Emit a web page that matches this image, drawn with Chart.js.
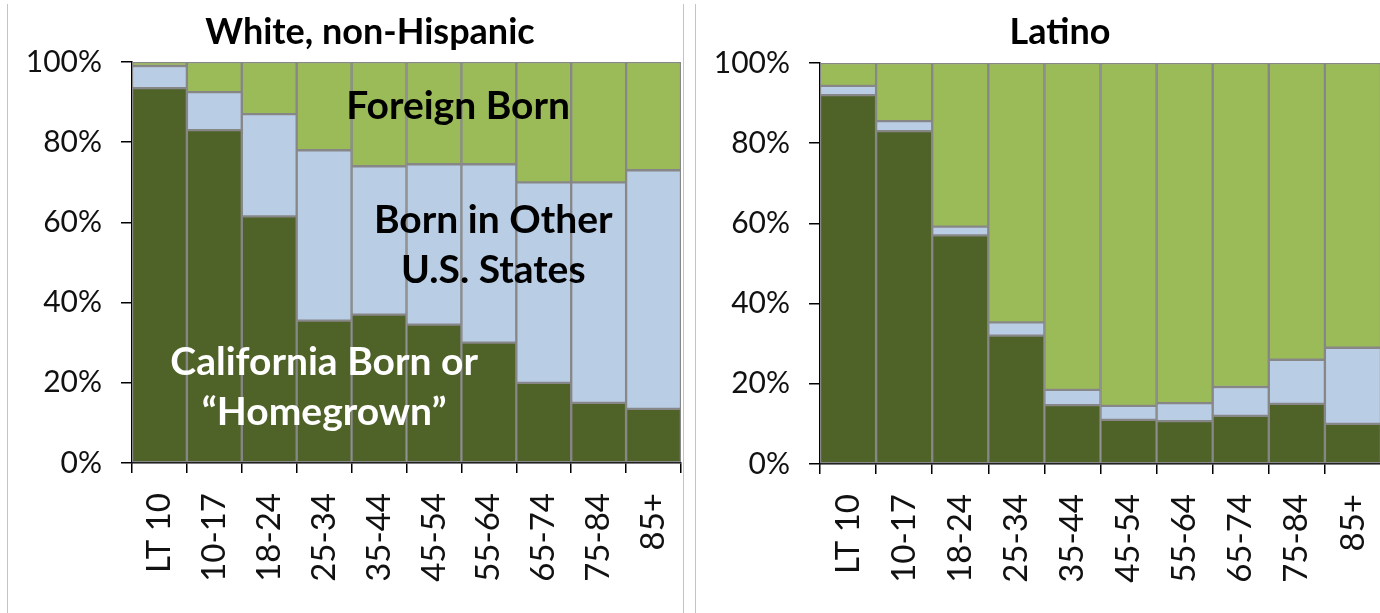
<!DOCTYPE html>
<html>
<head>
<meta charset="utf-8">
<script src="https://cdn.jsdelivr.net/npm/chart.js@4.4.1/dist/chart.umd.min.js"></script>
<style>
  body { margin: 0; background: #fff; width: 1380px; height: 613px; overflow: hidden; position: relative; }
  .painel { position: absolute; top: 0; height: 613px; }
  .linha { position: absolute; top: 4px; bottom: 0; width: 1px; background: #c4c4c4; }
</style>
</head>
<body>
<div class="linha" style="left:7px"></div>
<div class="linha" style="left:683px"></div>
<div class="linha" style="left:695px"></div>
<div class="painel" style="left:0"><canvas id="grafBranco" width="690" height="613"></canvas></div>
<div class="painel" style="left:690px"><canvas id="grafLatino" width="691" height="613"></canvas></div>

<script>
// faixas etarias
const faixas = ['LT 10', '10-17', '18-24', '25-34', '35-44', '45-54', '55-64', '65-74', '75-84', '85+'];

// White, non-Hispanic (%)
const brancoCalifornia = [93.5, 83, 61.5, 35.5, 37, 34.5, 30, 20, 15, 13.5];
const brancoOutrosEstados = [5.5, 9.5, 25.5, 42.5, 37, 40, 44.5, 50, 55, 59.5];
const brancoEstrangeiro = [1, 7.5, 13, 22, 26, 25.5, 25.5, 30, 30, 27];

// Latino (%)
const latinoCalifornia = [92, 83, 57, 32, 14.7, 11, 10.7, 12, 15, 10];
const latinoOutrosEstados = [2.3, 2.5, 2.2, 3.3, 3.8, 3.5, 4.5, 7.2, 11, 19];
const latinoEstrangeiro = [5.7, 14.5, 40.8, 64.7, 81.5, 85.5, 84.8, 80.8, 74, 71];

const yTicks = [0, 20, 40, 60, 80, 100];

const CORES = { california: '#4f6228', outros: '#b9cde5', estrangeiro: '#9bbb59', borda: '#878787' };
const FONTE = 'Lato';

// Plugin para titulo e rotulos dentro do grafico
const textoPainelPlugin = {
  id: 'textoPainel',
  afterDatasetsDraw(chart, args, options) {
    const { ctx, scales: { x, y } } = chart;
    ctx.save();
    ctx.textAlign = 'center';
    ctx.textBaseline = 'middle';
    ctx.font = `bold 36px ${FONTE}`;
    ctx.fillStyle = '#000';
    ctx.fillText(options.titulo, options.tituloX, 32);

    (options.rotulos || []).forEach((r) => {
      ctx.font = `bold 39px ${FONTE}`;
      ctx.fillStyle = r.cor;
      ctx.fillText(r.texto, x.getPixelForValue(r.pos), y.getPixelForValue(r.valor));
    });
    ctx.restore();
  }
};

Chart.register(textoPainelPlugin);

function criarGrafico(id, california, outros, estrangeiro, opcoes) {
  const serie = (label, data, cor) => ({
    label, data,
    backgroundColor: cor,
    borderColor: CORES.borda,
    borderWidth: 1.5,
    borderSkipped: false,
    barPercentage: 1,
    categoryPercentage: 1
  });

  new Chart(document.getElementById(id), {
    type: 'bar',
    data: {
      labels: faixas,
      datasets: [
        serie('California Born', california, CORES.california),
        serie('Born in Other U.S. States', outros, CORES.outros),
        serie('Foreign Born', estrangeiro, CORES.estrangeiro)
      ]
    },
    options: {
      responsive: false,
      animation: false,
      layout: { padding: { top: opcoes.topo, right: opcoes.direita, left: 0, bottom: 0 } },
      plugins: {
        legend: { display: false },
        tooltip: { enabled: false },
        textoPainel: { titulo: opcoes.titulo, tituloX: 370, rotulos: opcoes.rotulos }
      },
      scales: {
        x: {
          stacked: true,
          offset: true,
          grid: { offset: true, drawOnChartArea: false, drawTicks: true, tickLength: 10, color: '#000', lineWidth: 1.5 },
          border: { color: '#000', width: 1.5 },
          ticks: {
            color: '#111', padding: 20, minRotation: 90, maxRotation: 90, autoSkip: false,
            font: { family: FONTE, size: 33 }
          },
          afterFit(scale) {
            scale.height = 613 - opcoes.fundo;
            // sem folga extra dos rotulos girados
            scale.paddingLeft = 0;
            scale.paddingRight = 0;
          }
        },
        y: {
          stacked: true,
          min: 0, max: 100,
          afterBuildTicks(scale) { scale.ticks = yTicks.map((v) => ({ value: v })); },
          grid: { drawOnChartArea: false, drawTicks: true, tickLength: 11, color: '#000', lineWidth: 1.5 },
          border: { color: '#000', width: 1.5 },
          ticks: {
            color: '#111', padding: 19,
            font: { family: FONTE, size: 30 },
            callback: (v) => v + '%'
          },
          afterFit(scale) {
            scale.width = opcoes.eixoY;
            scale.paddingTop = 0;
            scale.paddingBottom = 0;
          }
        }
      }
    }
  });
}

criarGrafico('grafBranco', brancoCalifornia, brancoOutrosEstados, brancoEstrangeiro, {
  titulo: 'White, non-Hispanic', topo: 62, fundo: 463, direita: 9, eixoY: 132,
  rotulos: [
    { texto: 'Foreign Born', pos: 5.44, valor: 88.8, cor: '#000' },
    { texto: 'Born in Other', pos: 6.08, valor: 60.6, cor: '#000' },
    { texto: 'U.S. States', pos: 6.08, valor: 48, cor: '#000' },
    { texto: 'California Born or', pos: 3.0, valor: 25, cor: '#fff' },
    { texto: '\u201cHomegrown\u201d', pos: 3.0, valor: 12.5, cor: '#fff' }
  ]
});

criarGrafico('grafLatino', latinoCalifornia, latinoOutrosEstados, latinoEstrangeiro, {
  titulo: 'Latino', topo: 63, fundo: 464, direita: 0, eixoY: 130,
  rotulos: []
});
</script>
</body>
</html>
